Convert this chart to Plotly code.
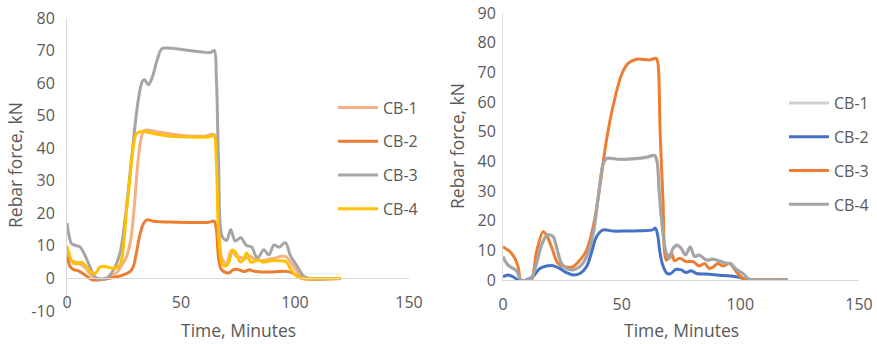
import plotly.graph_objects as go

# ---- Left panel: rebar force histories ----
L_CB1_t = [0, 2, 4, 6, 8, 10, 12, 14, 16, 18, 20, 22, 24, 26, 28, 29.5, 31, 32.5, 34, 40, 50, 60, 64.5,
           65.5, 66.5, 68, 70, 72, 74, 76, 78, 80, 82, 85, 88, 91, 94, 96, 98, 100, 102, 104, 106, 120]
L_CB1_v = [8, 5.5, 5, 4.3, 3.3, 1.5, 0.3, 0, 0, 0.2, 0.8, 2, 4, 6.5, 12, 22, 35, 43, 45.5, 45, 44, 43.7, 44.2,
           40, 18, 6, 4.5, 8.5, 7, 6.5, 6, 7, 6, 5.5, 5.8, 6.2, 6.8, 6.7, 5, 3, 1.2, 0.3, 0, 0]

L_CB2_t = [0, 1.5, 3, 5, 7, 9, 11, 13, 16, 19, 22, 25, 27.5, 29, 30.5, 32, 33.5, 35, 38, 45, 55, 62, 64.5,
           65.5, 66.5, 67.5, 69, 71, 73, 74.5, 76, 78, 80, 82, 85, 90, 95, 97, 99, 101, 103, 120]
L_CB2_v = [7, 3.5, 2.7, 2.3, 1.5, 0.5, -0.4, -0.5, -0.3, 0.1, 0.5, 1.2, 2, 3.5, 8, 13.5, 16.8, 18, 17.6,
           17.3, 17.2, 17.2, 17.6, 15, 6, 3, 2, 1.7, 2.7, 2.8, 2.5, 2.1, 2.7, 2.2, 2, 2, 2.2, 2.1, 1.6, 0.8, 0, 0]

L_CB3_t = [0, 2, 3.5, 5.7, 7.9, 10.1, 12.3, 14.5, 17.4, 20.3, 23.2, 25.4, 27, 28.5, 30, 31.3, 33, 34,
           35.7, 37.5, 39.5, 41.5, 44, 52, 60, 63, 64.6, 65.5, 66.5, 68, 70, 71.8, 73.8, 76.2, 78.6, 81,
           83.5, 86.3, 88.5, 90.8, 93, 95.8, 98, 100.7, 103.9, 106.5, 110, 120]
L_CB3_v = [17, 10.7, 10.2, 9.7, 7.1, 3.5, 0.4, -0.3, 0, 2.5, 7.6, 17.8, 28, 38, 48, 55, 60.5, 61,
           59.5, 62, 67, 70.5, 70.8, 70.2, 69.5, 69.4, 70, 62, 35, 13, 11.7, 15, 11.5, 12.5, 10.2, 9.6,
           6.2, 8.8, 7.2, 10.3, 9.6, 11, 7, 4, 0.7, 0, 0, 0]

L_CB4_t = [0, 2, 3.4, 6.4, 8.6, 10.8, 12.3, 14.5, 16.7, 20.3, 23.2, 24.8, 26, 27.5, 29, 30.5, 33, 36, 42,
           50, 58, 63, 64.5, 65.5, 66.5, 68, 69.5, 71, 72.5, 74, 75.8, 77.2, 78.8, 80.5, 82, 84, 86, 88,
           90, 93, 96, 98, 100, 102, 104, 120]
L_CB4_v = [10, 5.5, 4.5, 5, 3.5, 1.7, 1.5, 3.5, 3.7, 3.1, 4.1, 10, 20, 30, 40, 44.5, 45.2, 44.8, 44,
           43.5, 43.4, 43.6, 44, 36, 14, 4.5, 3.8, 5, 8.7, 8, 5.2, 5.5, 7.8, 5, 5.2, 5.7, 5, 5.2,
           5.5, 5.4, 5.2, 3, 1.2, 0.3, 0, 0]

# ---- Right panel: rebar force histories ----
R_CB1_t = [0, 2.1, 4.2, 5.9, 7.7, 9.8, 12, 14.1, 16.2, 18.6, 21.1, 22.5, 24.6, 26.7, 29.5, 32.4, 35.2,
           38, 40, 42.2, 43.6, 49.2, 54.8, 60.4, 63.9, 64.9, 65.8, 66.7, 68.8, 70.2, 71.6, 73.3, 75.1,
           76.9, 78.9, 80.7, 82.8, 85.6, 88.4, 91.2, 94, 96.1, 98.2, 101, 103.8, 106.6, 120]
R_CB1_v = [7.6, 5.2, 4.1, 2.9, -0.1, -0.1, 0.7, 5.4, 11.5, 15, 14.8, 11.4, 5.8, 4.1, 3.6, 4.6, 7.8,
           15.5, 26.8, 39, 40.8, 40.6, 40.8, 41.2, 41.8, 40, 30, 21, 9.2, 7.6, 10.4, 11.5, 10.5,
           8.6, 10.8, 8.1, 8.3, 6.9, 7.1, 6.5, 5.8, 5.5, 3.8, 2.3, 0.3, 0, 0]

R_CB2_t = [0, 2, 4.2, 7, 9.8, 12.6, 15.5, 18.3, 21.1, 23.9, 26.7, 29.5, 32.4, 35.2, 37.2, 39.4, 42.2,
           46.3, 51.9, 57.5, 63.1, 64.2, 65.2, 66, 67.1, 68.8, 70.2, 73, 75.1, 77.2, 79.3, 81.4, 85.6,
           92.6, 96.8, 99.6, 102.4, 105.2, 120]
R_CB2_v = [1.1, 1.7, 1.1, -0.2, 0, 1.1, 3.9, 4.7, 4.8, 3.9, 2.5, 1.7, 2.2, 4.5, 9, 14.6, 16.9,
           16.5, 16.5, 16.6, 16.9, 17.5, 15, 10, 5.6, 2.5, 2, 3.6, 3.4, 2.5, 3.1, 2.2, 2,
           1.5, 1.3, 0.9, 0.2, 0, 0]

R_CB3_t = [0, 3, 5, 6.5, 7.5, 10, 12, 14, 16.9, 18.3, 20.4, 23.2, 26, 29.5, 32.4, 35.2, 38, 40.8,
           43.6, 46.3, 49.9, 52.7, 56.2, 61.8, 64.6, 65.3, 66.2, 67.4, 68.8, 70.9, 72.3, 74.4, 77.2,
           80, 82.8, 84.9, 87, 88.4, 90.5, 92.6, 95.4, 96.8, 98.9, 101, 103.1, 106, 120]
R_CB3_v = [11.2, 9.5, 7.3, 4, 0, -0.2, 0, 9, 16.3, 15.2, 11.2, 5.6, 4.5, 4.5, 6.7, 10, 18, 31.5,
           47.2, 58.4, 69.1, 73, 74.4, 74.2, 74.7, 73, 50, 27, 6.7, 9, 6.5, 7.3, 6.2,
           6.2, 4.7, 5.6, 3.9, 4.3, 5.6, 4.7, 5.6, 4.5, 2.2, 0.6, -0.2, 0, 0]

R_CB4_t = R_CB1_t
R_CB4_v = [7.9, 5, 3.9, 2.8, -0.2, -0.2, 0.6, 5.6, 11.8, 15.2, 14.6, 11.2, 5.6, 3.9, 3.4, 4.5, 7.9,
           15.7, 27, 39.3, 41, 40.7, 40.9, 41.4, 42, 40, 30, 21.3, 9, 7.3, 10.7, 11.8, 10.7,
           8.4, 11.2, 7.9, 8.4, 6.7, 7, 6.4, 5.6, 5.4, 3.6, 2.2, 0.2, 0, 0]

SERIES_NAMES = ["CB-1", "CB-2", "CB-3", "CB-4"]
LEFT_COLORS = ["#f4b183", "#ed7d31", "#a5a5a5", "#ffc000"]
RIGHT_COLORS = ["#d0d0d0", "#4472c4", "#ed7d31", "#a5a5a5"]

X_TICKS = [0, 50, 100, 150]
LEFT_Y_TICKS = [-10, 0, 10, 20, 30, 40, 50, 60, 70, 80]
RIGHT_Y_TICKS = [0, 10, 20, 30, 40, 50, 60, 70, 80, 90]

X_TITLE = "Time, Minutes"
Y_TITLE = "Rebar force, kN"

W, H = 877, 344
TXT = "#595959"
AX = "#d9d9d9"
FONT = "Open Sans"


def px_x(p):
    return p / W


def px_y(p):
    return (H - p) / H


left_series = [(L_CB1_t, L_CB1_v), (L_CB2_t, L_CB2_v), (L_CB3_t, L_CB3_v), (L_CB4_t, L_CB4_v)]
right_series = [(R_CB1_t, R_CB1_v), (R_CB2_t, R_CB2_v), (R_CB3_t, R_CB3_v), (R_CB4_t, R_CB4_v)]

fig = go.Figure()

for i, (t, v) in enumerate(left_series):
    fig.add_trace(go.Scatter(
        x=t, y=v, name=SERIES_NAMES[i], mode="lines",
        line=dict(color=LEFT_COLORS[i], width=3, shape="spline", smoothing=0.9),
        xaxis="x", yaxis="y", legend="legend", legendgroup="L%d" % i,
    ))

for i, (t, v) in enumerate(right_series):
    fig.add_trace(go.Scatter(
        x=t, y=v, name=SERIES_NAMES[i], mode="lines",
        line=dict(color=RIGHT_COLORS[i], width=3, shape="spline", smoothing=0.9),
        xaxis="x2", yaxis="y2", legend="legend2", legendgroup="R%d" % i,
    ))

left_xdom = [px_x(67), px_x(409)]
left_ydom = [px_y(311), px_y(18)]
right_xdom = [px_x(503), px_x(859)]
right_ydom = [px_y(280), px_y(13)]

left_yr = [LEFT_Y_TICKS[0], LEFT_Y_TICKS[-1]]
zero_frac = (0 - left_yr[0]) / (left_yr[1] - left_yr[0])
left_xpos = left_ydom[0] + (left_ydom[1] - left_ydom[0]) * zero_frac

tick_font = dict(family=FONT, size=16, color=TXT)
common_x = dict(range=[X_TICKS[0], X_TICKS[-1]], tickvals=X_TICKS, ticktext=[str(v) for v in X_TICKS],
                showgrid=False, zeroline=False, automargin=False,
                showline=True, linecolor=AX, linewidth=1, ticks="", tickfont=tick_font,
                fixedrange=True)
common_y = dict(showgrid=False, zeroline=False, showline=True, linecolor=AX, linewidth=1,
                automargin=False, ticks="", tickfont=tick_font, fixedrange=True)

legend_common = dict(font=dict(family=FONT, size=16, color=TXT), bgcolor="rgba(0,0,0,0)",
                     tracegroupgap=10, itemwidth=40, xanchor="left", yanchor="middle",
                     traceorder="grouped")

fig.update_layout(
    width=W, height=H,
    margin=dict(l=0, r=0, t=0, b=0, autoexpand=False),
    paper_bgcolor="white", plot_bgcolor="white",
    xaxis=dict(domain=left_xdom, anchor="free", position=left_xpos, ticklabelstandoff=9, **common_x),
    yaxis=dict(domain=left_ydom, anchor="x", range=left_yr, tickvals=LEFT_Y_TICKS,
               ticktext=[str(v) for v in LEFT_Y_TICKS], ticklabelstandoff=8, **common_y),
    xaxis2=dict(domain=right_xdom, anchor="y2", ticklabelstandoff=10, **common_x),
    yaxis2=dict(domain=right_ydom, anchor="x2", range=[RIGHT_Y_TICKS[0], RIGHT_Y_TICKS[-1]],
                tickvals=RIGHT_Y_TICKS, ticktext=[str(v) for v in RIGHT_Y_TICKS],
                ticklabelstandoff=3, **common_y),
    legend=dict(x=px_x(333), y=px_y(158.5), **legend_common),
    legend2=dict(x=px_x(784), y=px_y(154), **legend_common),
    showlegend=True,
)

title_font = dict(family=FONT, size=17.5, color=TXT)
annos = [
    dict(text=X_TITLE, x=px_x(238), y=px_y(330)),
    dict(text=X_TITLE, x=px_x(681), y=px_y(330)),
    dict(text=Y_TITLE, x=px_x(15), y=px_y(165), textangle=-90),
    dict(text=Y_TITLE, x=px_x(457), y=px_y(146), textangle=-90),
]
for a in annos:
    fig.add_annotation(xref="paper", yref="paper", showarrow=False, font=title_font,
                       xanchor="center", yanchor="middle", **a)

fig.write_html("out.html")
